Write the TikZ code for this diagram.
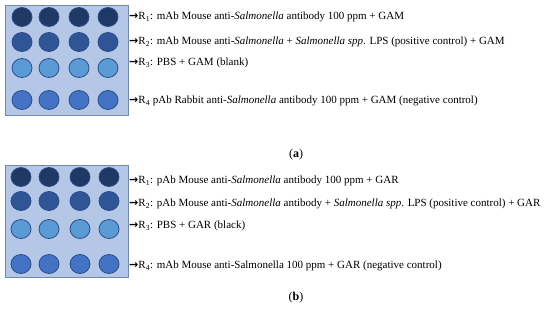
\documentclass[tikz,border=0pt]{standalone}
\usepackage{fontspec}
\setmainfont{Liberation Serif}
\newfontfamily\arrowfont{DejaVu Sans}
\usetikzlibrary{shapes.geometric, positioning}
\definecolor{plateBlue}{HTML}{B4C7E7}
\definecolor{plateEdge}{HTML}{6F89B6}
\definecolor{wellEdge}{HTML}{2B4C86}
\definecolor{rowOne}{HTML}{1F3864}
\definecolor{rowTwo}{HTML}{2F5597}
\definecolor{rowThree}{HTML}{5B9BD5}
\definecolor{rowFour}{HTML}{4472C4}
\newcommand{\rarr}{{\arrowfont\bfseries →}}

\begin{document}
\begin{tikzpicture}[x=1pt, y=-1pt,
  plate/.style={draw=plateEdge, fill=plateBlue, line width=0.8pt},
  well/.style={ellipse, draw=wellEdge, line width=0.8pt, inner sep=0pt,
               minimum width=20pt, minimum height=19pt},
  rowtext/.style={anchor=west, inner sep=0pt, font=\fontsize{11}{13}\selectfont},
  caption/.style={font=\fontsize{12}{14}\selectfont}]
  \useasboundingbox (0,0) rectangle (550,311);
  % (a) mAb mouse + GAM
  \begin{scope}
    \node[plate, minimum width=123pt, minimum height=110pt, inner sep=0pt]
      (plateA) at (66.5,60) {};
    \foreach \r/\y/\c in {1/17/rowOne, 2/42/rowTwo, 3/68/rowThree, 4/100/rowFour}
      \foreach \k/\x in {1/22, 2/49, 3/79, 4/108}
        \node[well, fill=\c] (a-\r-\k) at (\x,\y) {};
    \node[rowtext] (ta1) at (129,17)
      {\rarr R\textsubscript{1}: mAb Mouse anti-\textit{Salmonella} antibody 100 ppm + GAM};
    \node[rowtext] (ta2) at (129,42)
      {\rarr R\textsubscript{2}: mAb Mouse anti-\textit{Salmonella} + \textit{Salmonella spp}. LPS (positive control) + GAM};
    \node[rowtext] (ta3) at (129,63)
      {\rarr R\textsubscript{3}: PBS + GAM (blank)};
    \node[rowtext] (ta4) at (129,101)
      {\rarr R\textsubscript{4} pAb Rabbit anti-\textit{Salmonella} antibody 100 ppm + GAM (negative control)};
    \node[caption] (capA) at (296,155) {(\textbf{a})};
  \end{scope}
  % (b) pAb mouse + GAR
  \begin{scope}
    \node[plate, minimum width=123pt, minimum height=112pt, inner sep=0pt]
      (plateB) at (66.5,221) {};
    \foreach \r/\y/\c in {1/177/rowOne, 2/201/rowTwo, 3/229/rowThree, 4/264/rowFour}
      \foreach \k/\x in {1/21, 2/49, 3/80, 4/109}
        \node[well, fill=\c] (b-\r-\k) at (\x,\y) {};
    \node[rowtext] (tb1) at (129,181)
      {\rarr R\textsubscript{1}: pAb Mouse anti-\textit{Salmonella} antibody 100 ppm + GAR};
    \node[rowtext] (tb2) at (129,204)
      {\rarr R\textsubscript{2}: pAb Mouse anti-\textit{Salmonella} antibody + \textit{Salmonella spp}. LPS (positive control) + GAR};
    \node[rowtext] (tb3) at (129,226)
      {\rarr R\textsubscript{3}: PBS + GAR (black)};
    \node[rowtext] (tb4) at (129,266)
      {\rarr R\textsubscript{4}: mAb Mouse anti-Salmonella 100 ppm + GAR (negative control)};
    \node[caption] (capB) at (296,298) {(\textbf{b})};
  \end{scope}
\end{tikzpicture}
\end{document}
